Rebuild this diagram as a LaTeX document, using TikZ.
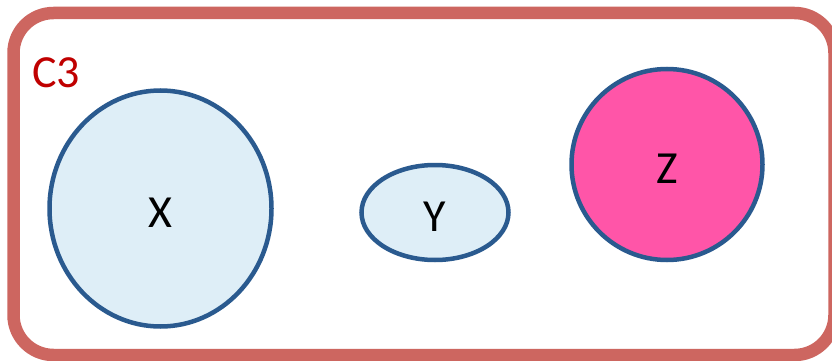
\documentclass[tikz,border=0pt]{standalone}
\usepackage{fontspec}
\setmainfont{Carlito}
\usetikzlibrary{shapes.geometric}
\definecolor{frame}{HTML}{CD6660}
\definecolor{labelred}{HTML}{C00000}
\definecolor{edge}{HTML}{2A5A8F}
\definecolor{paleblue}{HTML}{DEEEF7}
\definecolor{hotpink}{HTML}{FF55A8}
\tikzset{
  setnode/.style={ellipse, draw=edge, line width=4.5pt, inner sep=0pt,
    font=\fontsize{46}{50}\selectfont, text height=38pt, text depth=0pt},
}
\begin{document}
\begin{tikzpicture}[x=1pt,y=-1pt]
\useasboundingbox (0,0) rectangle (832,361);
\fill[white] (0,0) rectangle (832,361);
\node[draw=frame, line width=12.5pt, rounded corners=40pt, minimum width=821pt, minimum height=342pt, inner sep=0pt] (C3box) at (424,184) {};
\node[text=labelred, font=\fontsize{46}{50}\selectfont, anchor=west, inner sep=0pt] (C3) at (32,73) {C3};
\node[setnode, fill=paleblue, minimum width=222pt, minimum height=236pt] (X) at (160.5,208.5) {X};
\node[setnode, fill=paleblue, minimum width=147pt, minimum height=95pt] (Y) at (435,212.5) {Y};
\node[setnode, fill=hotpink, minimum width=191pt, minimum height=191pt] (Z) at (667,164.5) {Z};
\end{tikzpicture}
\end{document}
